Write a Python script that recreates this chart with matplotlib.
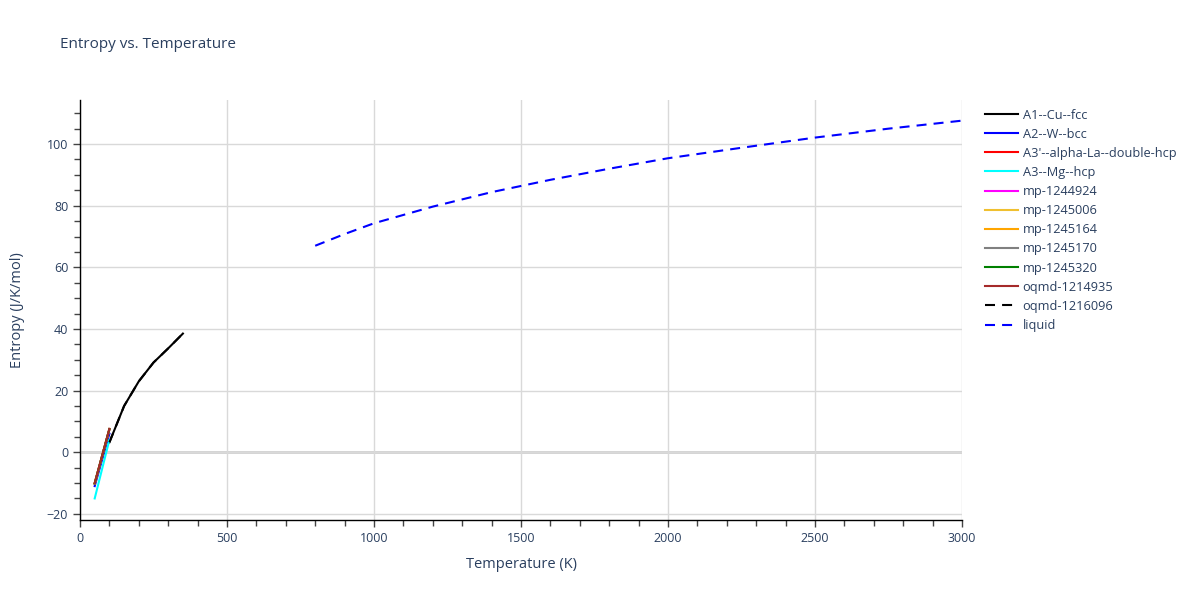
import matplotlib.pyplot as plt
from matplotlib.ticker import MultipleLocator

plt.rcParams['font.family'] = ['Open Sans', 'DejaVu Sans']

TXT = '#2a3f5f'

# phase data: temperature (K) / entropy (J/K/mol)
cu_T = [100, 150, 200, 250, 300, 350]
cu_S = [3.2, 15.0, 23.0, 29.1, 33.7, 38.5]

bcc_T = [50, 100]
bcc_S = [-11.0, 6.0]
dhcp_T = [50, 100]
dhcp_S = [-10.2, 7.4]
mg_T = [50, 100]
mg_S = [-15.0, 4.0]
mp924_T = [50, 100]
mp924_S = [-10.2, 7.4]
mp006_T = [50, 100]
mp006_S = [-10.1, 7.5]
mp164_T = [50, 100]
mp164_S = [-10.1, 7.5]
mp170_T = [50, 100]
mp170_S = [-10.2, 7.4]
mp320_T = [50, 100]
mp320_S = [-10.1, 7.5]
oq935_T = [50, 100]
oq935_S = [-10.0, 7.6]
oq096_T = cu_T
oq096_S = cu_S

liq_T = [800, 900, 1000, 1200, 1400, 1600, 1800, 2000, 2250, 2500, 2750, 3000]
liq_S = [67.0, 70.8, 74.3, 79.7, 84.4, 88.4, 92.0, 95.4, 98.8, 102.1, 105.0, 107.6]

solid = [
    ('A1--Cu--fcc', cu_T, cu_S, 'black'),
    ('A2--W--bcc', bcc_T, bcc_S, 'blue'),
    ("A3'--alpha-La--double-hcp", dhcp_T, dhcp_S, 'red'),
    ('A3--Mg--hcp', mg_T, mg_S, 'cyan'),
    ('mp-1244924', mp924_T, mp924_S, 'magenta'),
    ('mp-1245006', mp006_T, mp006_S, '#f0c030'),
    ('mp-1245164', mp164_T, mp164_S, 'orange'),
    ('mp-1245170', mp170_T, mp170_S, 'gray'),
    ('mp-1245320', mp320_T, mp320_S, 'green'),
    ('oqmd-1214935', oq935_T, oq935_S, 'brown'),
]

fig = plt.figure(figsize=(12, 6), dpi=100)
ax = fig.add_axes([80 / 1200, 80 / 600, 882 / 1200, 420 / 600])

for name, t, s, c in solid:
    ax.plot(t, s, color=c, lw=1.5, label=name)
ax.plot(oq096_T, oq096_S, color='black', lw=1.5, dashes=(4.8, 3.4), label='oqmd-1216096')
ax.plot(liq_T, liq_S, color='blue', lw=1.5, dashes=(4.8, 3.4), label='liquid')

ax.set_xlim(0, 3000)
ax.set_ylim(-22, 114.3)
ax.xaxis.set_major_locator(MultipleLocator(500))
ax.xaxis.set_minor_locator(MultipleLocator(100))
ax.yaxis.set_major_locator(MultipleLocator(20))
ax.yaxis.set_minor_locator(MultipleLocator(5))
ax.grid(True, which='major', color='#d9d9d9', lw=1)
ax.axhline(0, color='#d0d0d0', lw=2, zorder=0.5)
ax.set_axisbelow(True)

for side in ['top', 'right']:
    ax.spines[side].set_visible(False)
for side in ['left', 'bottom']:
    ax.spines[side].set_color('black')
    ax.spines[side].set_linewidth(1)

ax.tick_params(which='both', direction='out', color='#444444', labelcolor=TXT, labelsize=9)
ax.tick_params(which='major', length=5, width=1)
ax.tick_params(which='minor', length=4, width=1)

ax.set_xlabel('Temperature (K)', fontsize=10.5, color=TXT, labelpad=9)
ax.set_ylabel('Entropy (J/K/mol)', fontsize=10.5, color=TXT, labelpad=16)
fig.text(60 / 1200, 1 - 45 / 600, 'Entropy vs. Temperature', fontsize=11, color=TXT, va='center')

leg = ax.legend(loc='upper left', bbox_to_anchor=(1.013, 1.007), frameon=False,
                fontsize=9.2, handlelength=2.55, handletextpad=0.4, labelspacing=0.48)
for txt in leg.get_texts():
    txt.set_color(TXT)

fig.savefig('out.png')
